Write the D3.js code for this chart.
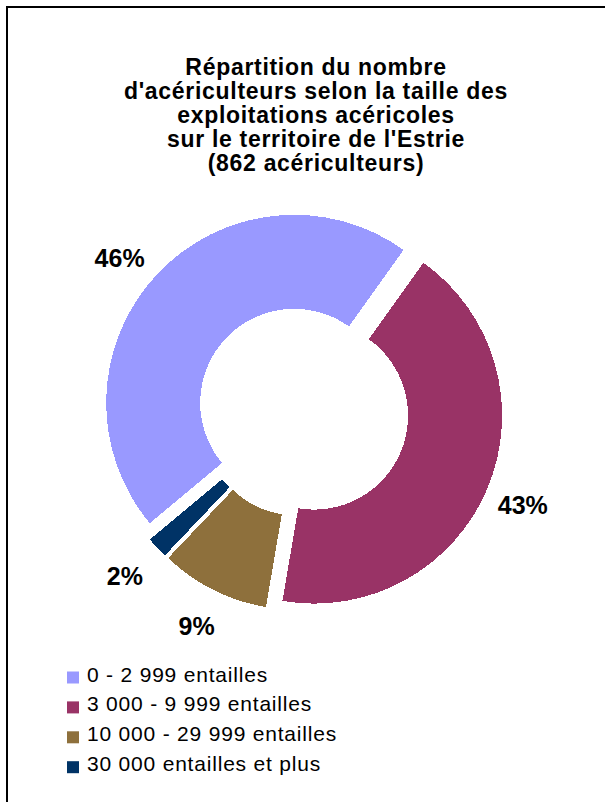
<!DOCTYPE html>
<html><head><meta charset="utf-8">
<script src="https://cdn.jsdelivr.net/npm/d3@7"></script>
<style>html,body{margin:0;padding:0;background:#fff;}svg{display:block;}</style>
</head><body>
<script>
const titleLines = ["Répartition du nombre","d'acériculteurs selon la taille des","exploitations acéricoles","sur le territoire de l'Estrie","(862 acériculteurs)"];
const categories = ["0 - 2 999 entailles","3 000 - 9 999 entailles","10 000 - 29 999 entailles","30 000 entailles et plus"];
const counts = [396, 369, 81, 16];
const colors = ["#9999FF","#993366","#8E703C","#003366"];

const W = 605, H = 802;
const svg = d3.select("body").append("svg").attr("width", W).attr("height", H);
svg.append("rect").attr("width", W).attr("height", H).attr("fill", "#fff");
// frame (right/bottom edges fall outside the picture)
svg.append("rect").attr("x", 7).attr("y", 7).attr("width", 700).attr("height", 900)
  .attr("fill", "none").attr("stroke", "#000").attr("stroke-width", 2);

const font = "Arial, 'Liberation Sans', sans-serif";

svg.append("g").selectAll("text").data(titleLines).join("text")
  .attr("x", 316).attr("y", (d, i) => 75 + i * 23.9)
  .attr("text-anchor", "middle")
  .attr("font-family", font).attr("font-weight", "bold").attr("font-size", 23)
  .attr("letter-spacing", 0.7)
  .text(d => d);

const cx = 303, cy = 411, R = 188, r = 94, explode = 12;
const start = 230.2 * Math.PI / 180;
const total = d3.sum(counts);
const pie = d3.pie().sort(null).startAngle(start).endAngle(start + 2 * Math.PI);
const arcs = pie(counts);
const arc = d3.arc().innerRadius(r).outerRadius(R);

const g = svg.append("g").attr("transform", `translate(${cx},${cy})`);
g.selectAll("path").data(arcs).join("path")
  .attr("d", arc)
  .attr("fill", (d, i) => colors[i])
  .attr("shape-rendering", "crispEdges")
  .attr("transform", d => {
    const m = (d.startAngle + d.endAngle) / 2;
    return `translate(${Math.sin(m) * explode},${-Math.cos(m) * explode})`;
  });

// label placement (Excel best-fit nudges)
const labelNudgeDeg = [-3, 0.5, -0.3, 0.3];
const labelR = [239, 239, 240, 243];
const labelAngle = (d, i) => (d.startAngle + d.endAngle) / 2 + labelNudgeDeg[i] * Math.PI / 180;
g.selectAll("text").data(arcs).join("text")
  .attr("x", (d, i) => Math.sin(labelAngle(d, i)) * labelR[i])
  .attr("y", (d, i) => -Math.cos(labelAngle(d, i)) * labelR[i])
  .attr("text-anchor", "middle").attr("dominant-baseline", "central")
  .attr("font-family", font).attr("font-weight", "bold").attr("font-size", 25)
  .text(d => Math.round(d.value / total * 100) + "%");

const leg = svg.append("g").selectAll("g").data(categories).join("g")
  .attr("transform", (d, i) => `translate(67,${681.5 + i * 29.9})`);
leg.append("rect").attr("x", 0).attr("y", -10).attr("width", 12).attr("height", 12)
  .attr("fill", (d, i) => colors[i]);
leg.append("text").attr("x", 20).attr("y", 0)
  .attr("font-family", font).attr("font-size", 21).attr("letter-spacing", 0.8)
  .text(d => d);
</script>
</body></html>
